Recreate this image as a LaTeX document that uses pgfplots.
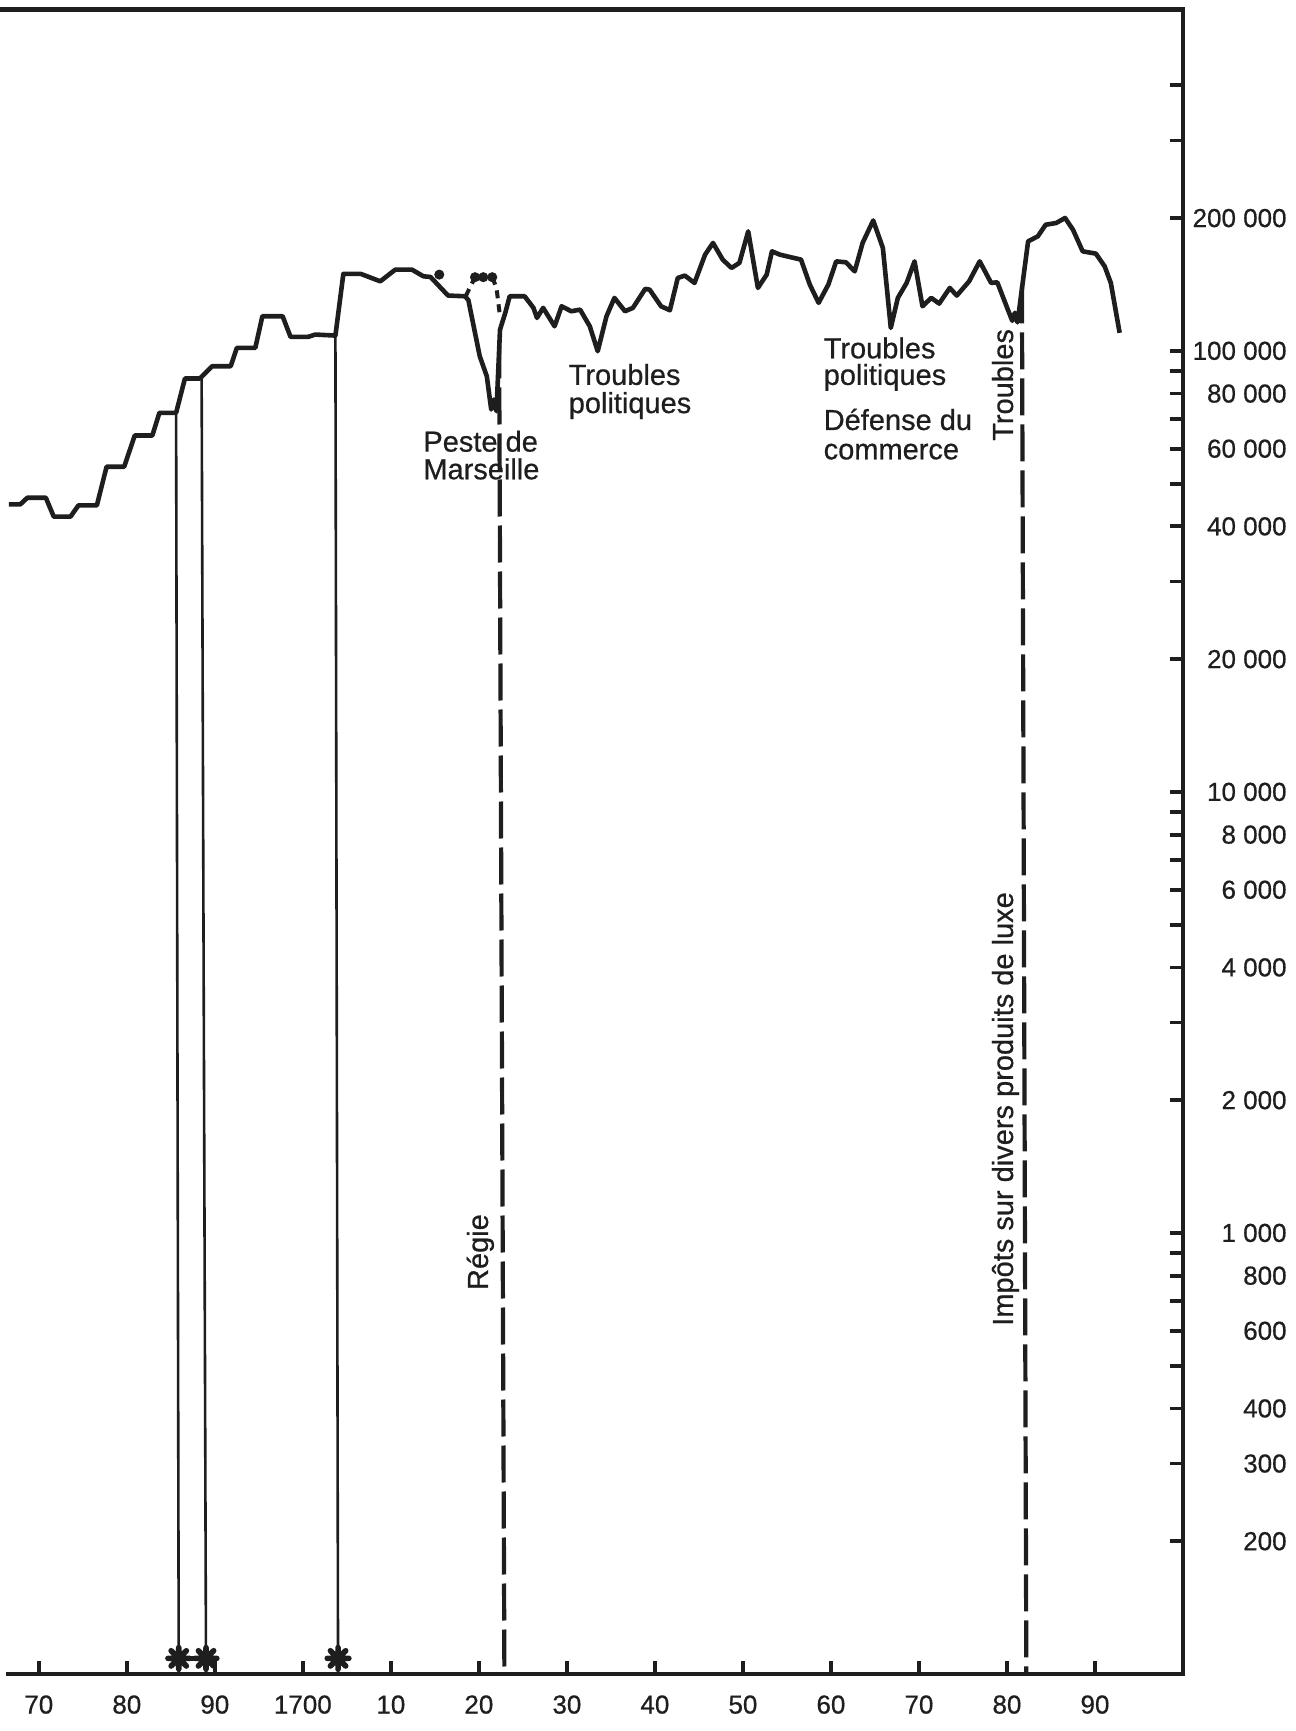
\documentclass[border=0pt]{standalone}
\usepackage{fontspec}
\setmainfont{Liberation Sans}[FakeBold=0.6]
\usepackage{pgfplots}
\pgfplotsset{compat=1.18}
\definecolor{ink}{HTML}{1E1E1E}
\newcommand\annfont{\fontsize{14.5}{14.5}\selectfont}

% asterisque a huit branches (bas de l'axe)
\pgfdeclareplotmark{etoile}{%
  \pgfsetroundcap
  \pgfsetlinewidth{2.8pt}%
  \pgfpathmoveto{\pgfpoint{-\pgfplotmarksize}{0pt}}\pgfpathlineto{\pgfpoint{\pgfplotmarksize}{0pt}}%
  \pgfpathmoveto{\pgfpoint{0pt}{-\pgfplotmarksize}}\pgfpathlineto{\pgfpoint{0pt}{\pgfplotmarksize}}%
  \pgfpathmoveto{\pgfpoint{-0.707\pgfplotmarksize}{-0.707\pgfplotmarksize}}\pgfpathlineto{\pgfpoint{0.707\pgfplotmarksize}{0.707\pgfplotmarksize}}%
  \pgfpathmoveto{\pgfpoint{-0.707\pgfplotmarksize}{0.707\pgfplotmarksize}}\pgfpathlineto{\pgfpoint{0.707\pgfplotmarksize}{-0.707\pgfplotmarksize}}%
  \pgfusepathqstroke
  \pgfpathcircle{\pgfpointorigin}{0.5\pgfplotmarksize}\pgfusepathqfill
}

\begin{document}
\begin{tikzpicture}
\begin{axis}[
  name=ax,
  scale only axis, width=587.5pt, height=832.2pt,
  xmin=1666.5, xmax=1800,
  ymode=log, ymin=100, ymax=594000,
  axis x line*=bottom, axis y line*=right,
  axis line style={line width=2.1pt, ink, line cap=rect},
  tick align=inside,
  major tick length=6.5pt,
  every tick/.style={line width=1.9pt, ink},
  xtick={1670,1680,...,1790},
  xticklabels={70,80,90,1700,10,20,30,40,50,60,70,80,90},
  ytick={200,300,400,500,600,700,800,900,1000,2000,3000,4000,5000,6000,7000,8000,9000,
         10000,20000,30000,40000,50000,60000,70000,80000,90000,100000,200000,300000,400000},
  yticklabels={200,300,400,{},600,{},800,{},{1 000},{2 000},{},{4 000},{},{6 000},{},{8 000},{},
         {10 000},{20 000},{},{40 000},{},{60 000},{},{80 000},{},{100 000},{200 000},{},{}},
  ticklabel style={font=\fontsize{13}{13}\selectfont, text=ink},
  xticklabel style={anchor=north, inner sep=0pt, yshift=-10.5pt},
  yticklabel style={anchor=east, inner sep=0pt, xshift=52pt},
  /pgf/number format/assume math mode=true,
  clip=false,
]

% produit annuel
\addplot[ink, line width=2.3pt, line join=round] coordinates {
  (1666.6,44870) (1667.9,44870) (1668.7,46450) (1670.8,46450) (1671.7,42070) (1673.6,42070)
  (1674.5,44630) (1676.6,44630) (1677.7,54610) (1679.7,54610) (1680.9,64270) (1682.9,64270)
  (1683.7,72360) (1685.6,72360) (1686.6,86550) (1688.3,86550) (1689.7,92280) (1691.8,92280)
  (1692.5,101580) (1694.6,101580) (1695.4,119800) (1697.7,119800) (1698.6,107570) (1700.6,107570)
  (1701.4,108870) (1703.7,108310) (1704.6,149400) (1706.6,149400) (1708.8,143760)
  (1710.5,152800) (1712.4,152800) (1713.7,147570) (1714.5,147100) (1716.5,133460) (1718.4,132970)
  (1718.8,130500) (1720.1,97200) (1720.9,87600) (1721.4,73640) (1721.7,77560) (1722.0,72970)
  (1722.4,111700) (1723.0,121950) (1723.5,132970) (1725.2,132970) (1726.2,125150) (1726.6,118770)
  (1727.3,125150) (1728.6,113690) (1729.4,126200) (1730.5,122960) (1731.5,124000)
  (1732.6,113700) (1733.5,99800) (1734.5,119800) (1735.4,131840) (1736.6,122960) (1737.5,125150)
  (1738.9,138200) (1739.4,137650) (1740.7,126200) (1741.7,123590) (1742.6,146340) (1743.4,148130)
  (1744.5,142560) (1745.7,165250) (1746.6,175660) (1747.7,161010) (1748.7,154170) (1749.6,158250)
  (1750.6,186590) (1751.7,138890) (1752.7,148890) (1753.3,168130) (1754.2,165250) (1755.5,162930)
  (1756.6,161010) (1757.6,141310) (1758.6,128460) (1759.7,141310) (1760.6,159570) (1761.7,158760)
  (1762.7,151460) (1763.6,175660) (1764.8,197550) (1765.9,171130) (1766.8,112740) (1767.6,131840)
  (1768.6,142560) (1769.5,159570) (1770.4,126200) (1771.4,131840) (1772.3,127990) (1773.5,138890)
  (1774.3,133460) (1775.7,143760) (1776.9,159570) (1778.2,142560) (1778.9,143020)
  (1780.1,124000) (1780.6,117000) (1780.9,122000) (1781.2,116000)
  (1782.4,177120) (1783.5,181800) (1784.4,193210) (1785.6,194980) (1786.6,200100) (1787.5,188240)
  (1788.6,168130) (1790.1,166130) (1791.1,155440) (1791.8,142560) (1792.8,109850)
};

% trace hypothetique pendant la peste
\addplot[ink, line width=2pt, dash pattern=on 4pt off 3pt] coordinates {(1718.5,133000) (1719.56,146900)};
\addplot[ink, line width=2pt, dash pattern=on 4pt off 3pt] coordinates {(1721.52,146900) (1722.0,138900) (1722.4,119800)};
\addplot[only marks, mark=*, mark size=2.3pt, mark options={ink, fill=ink}] coordinates {
  (1715.5,148900) (1719.56,146900) (1720.5,146900) (1721.52,146900)};

% changements de bail
\addplot[ink, line width=1.3pt] coordinates {(1685.6,72360) (1685.9,100)};
\addplot[ink, line width=1.3pt] coordinates {(1688.5,86550) (1689.0,100)};
\addplot[ink, line width=1.3pt] coordinates {(1703.7,108310) (1704.0,100)};
\addplot[ink, line width=2.6pt] coordinates {(1685.9,108.5) (1689.0,108.5)};
\addplot[only marks, mark=etoile, mark size=5.4pt, mark options={ink, fill=ink}] coordinates {
  (1685.9,108.5) (1689.0,108.5) (1704.0,108.5)};

% regie et impots
\addplot[ink, line width=2.1pt, dash pattern=on 18.5pt off 4.5pt] coordinates {(1722.3,105000) (1722.9,100)};
\addplot[ink, line width=2.1pt, dash pattern=on 18.5pt off 4.5pt] coordinates {(1781.7,140000) (1782.2,100)};

\draw[ink, line width=2.1pt] ([xshift=-4pt]rel axis cs:0,1) -- (rel axis cs:1,1);

\begin{scope}[every node/.style={font=\annfont, text=ink, inner sep=0pt}]
\node[anchor=base west] at (rel axis cs:0.3532,0.7344) {Peste de};
\node[anchor=base west] at (rel axis cs:0.3532,0.7178) {Marseille};
\node[anchor=base west] at (rel axis cs:0.4769,0.7745) {Troubles};
\node[anchor=base west] at (rel axis cs:0.4769,0.7576) {politiques};
\node[anchor=base west] at (rel axis cs:0.6939,0.7905) {Troubles};
\node[anchor=base west] at (rel axis cs:0.6939,0.7745) {politiques};
\node[anchor=base west] at (rel axis cs:0.6939,0.7474) {Défense du};
\node[anchor=base west] at (rel axis cs:0.6939,0.7298) {commerce};
\node[anchor=base, rotate=90] at (rel axis cs:0.8553,0.7745) {Troubles};
\node[anchor=base, rotate=90] at (rel axis cs:0.4085,0.2535) {Régie};
\node[anchor=base, rotate=90] at (rel axis cs:0.8553,0.3395) {Impôts sur divers produits de luxe};
\end{scope}
\end{axis}
\pgfresetboundingbox
\path ([xshift=-4pt,yshift=-28.5pt]ax.south west) rectangle ([xshift=56.5pt,yshift=4.8pt]ax.north east);
\end{tikzpicture}
\end{document}
